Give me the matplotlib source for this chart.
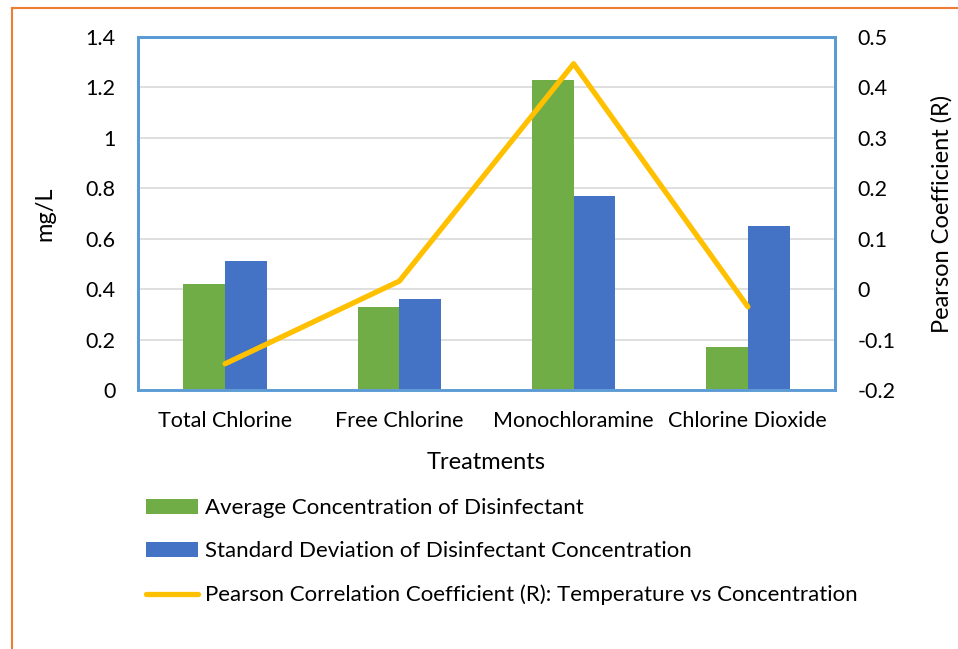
import matplotlib.pyplot as plt
import numpy as np

plt.rcParams['font.family'] = ['Lato', 'DejaVu Sans']

treatments = ['Total Chlorine', 'Free Chlorine', 'Monochloramine', 'Chlorine Dioxide']
avg_conc = [0.42, 0.33, 1.23, 0.17]
std_conc = [0.51, 0.36, 0.77, 0.65]
pearson_r = [-0.148, 0.016, 0.447, -0.035]

left_ticks = [0, 0.2, 0.4, 0.6, 0.8, 1, 1.2, 1.4]
right_ticks = [-0.2, -0.1, 0, 0.1, 0.2, 0.3, 0.4, 0.5]

green = '#70AD47'
blue = '#4472C4'
gold = '#FFC000'
fs = 15.5

fig = plt.figure(figsize=(9.58, 6.49), dpi=100)
ax = fig.add_axes([138/958, 1 - 390/649, 697/958, 353/649])

x = np.arange(len(treatments))
w = 0.24
ax.bar(x - w/2, avg_conc, w, color=green, label='Average Concentration of Disinfectant', zorder=2)
ax.bar(x + w/2, std_conc, w, color=blue, label='Standard Deviation of Disinfectant Concentration', zorder=2)

ax.set_xlim(-0.5, 3.5)
ax.set_ylim(0, 1.4)
ax.set_yticks(left_ticks)
ax.set_yticklabels(['0', '0.2', '0.4', '0.6', '0.8', '1', '1.2', '1.4'])
ax.set_xticks(x)
ax.set_xticklabels(treatments)
ax.grid(axis='y', color='#D9D9D9', linewidth=1.2, zorder=0)
ax.set_axisbelow(True)
ax.tick_params(axis='both', length=0, labelsize=fs)
ax.tick_params(axis='y', pad=16)
ax.tick_params(axis='x', pad=15)
ax.set_xlabel('Treatments', fontsize=17, labelpad=15)
ax.set_ylabel('mg/L', fontsize=17, labelpad=22)

ax2 = ax.twinx()
ax2.plot(x, pearson_r, color=gold, linewidth=3.8, solid_capstyle='round',
         label='Pearson Correlation Coefficient (R): Temperature vs Concentration', zorder=3)
ax2.set_ylim(-0.2, 0.5)
ax2.set_yticks(right_ticks)
ax2.set_yticklabels(['-0.2', '-0.1', '0', '0.1', '0.2', '0.3', '0.4', '0.5'])
ax2.tick_params(axis='y', length=0, labelsize=fs, pad=16)
ax2.set_ylabel('Pearson Coefficient (R)', fontsize=17, labelpad=26)

for a in (ax, ax2):
    for s in a.spines.values():
        s.set_color('#5B9BD5')
        s.set_linewidth(2)
ax.spines['bottom'].set_color('#A9C4E0')

h1, l1 = ax.get_legend_handles_labels()
h2, l2 = ax2.get_legend_handles_labels()
fig.legend(h1 + h2, l1 + l2, loc='upper left', bbox_to_anchor=(146/958, 1 - 498/649),
           frameon=False, fontsize=16, handlelength=2.35, handleheight=0.65,
           handletextpad=0.3, labelspacing=1.05, borderpad=0, borderaxespad=0)

# orange outer border
fig.add_artist(plt.Line2D([12/958, 12/958], [0, 1 - 8/649], color='#ED7D31', linewidth=1.5))
fig.add_artist(plt.Line2D([12/958, 1], [1 - 8/649, 1 - 8/649], color='#ED7D31', linewidth=1.5))

fig.savefig('out.png', dpi=100)
